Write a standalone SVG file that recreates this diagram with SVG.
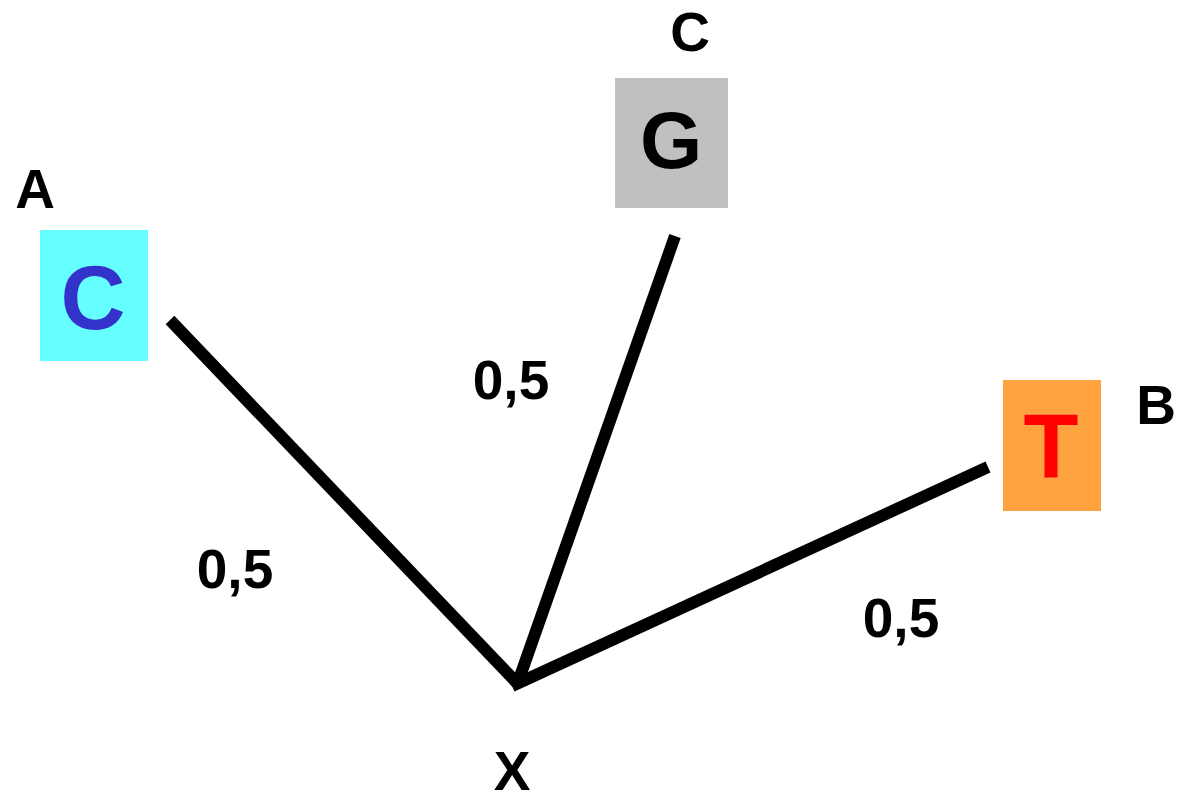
<svg xmlns="http://www.w3.org/2000/svg" width="1177" height="796" viewBox="0 0 1177 796">
<style>
text{font-family:"Liberation Sans",Arial,sans-serif;font-weight:bold;text-anchor:middle}
.lbl{font-size:55px;fill:#000}
.big{font-size:90px}
.edge{stroke:#000;stroke-width:12;fill:none}
</style>
<rect width="1177" height="796" fill="#fff"/>
<g id="connectors">
<line class="edge" x1="170" y1="320" x2="517" y2="683"/>
<line class="edge" x1="675" y1="236" x2="517" y2="685"/>
<line class="edge" x1="988" y1="467" x2="512" y2="686"/>
</g>
<g id="nodeA">
<rect x="40" y="230" width="108" height="131" fill="#66ffff"/>
<text class="big" x="93" y="329" fill="#3333cc">C</text>
<text class="lbl" x="35" y="208">A</text>
</g>
<g id="nodeC">
<rect x="615" y="78" width="113" height="130" fill="#c0c0c0"/>
<text x="671" y="168" font-size="80" fill="#000">G</text>
<text class="lbl" x="690" y="51">C</text>
</g>
<g id="nodeB">
<rect x="1003" y="380" width="98" height="131" fill="#ffa340"/>
<text class="big" x="1051" y="478" fill="#ff0000">T</text>
<text class="lbl" x="1156" y="424">B</text>
</g>
<g id="nodeX">
<text class="lbl" x="512" y="790">X</text>
</g>
<g id="edge-labels">
<text class="lbl" x="511" y="399">0,5</text>
<text class="lbl" x="235" y="588">0,5</text>
<text class="lbl" x="901" y="637">0,5</text>
</g>
</svg>
